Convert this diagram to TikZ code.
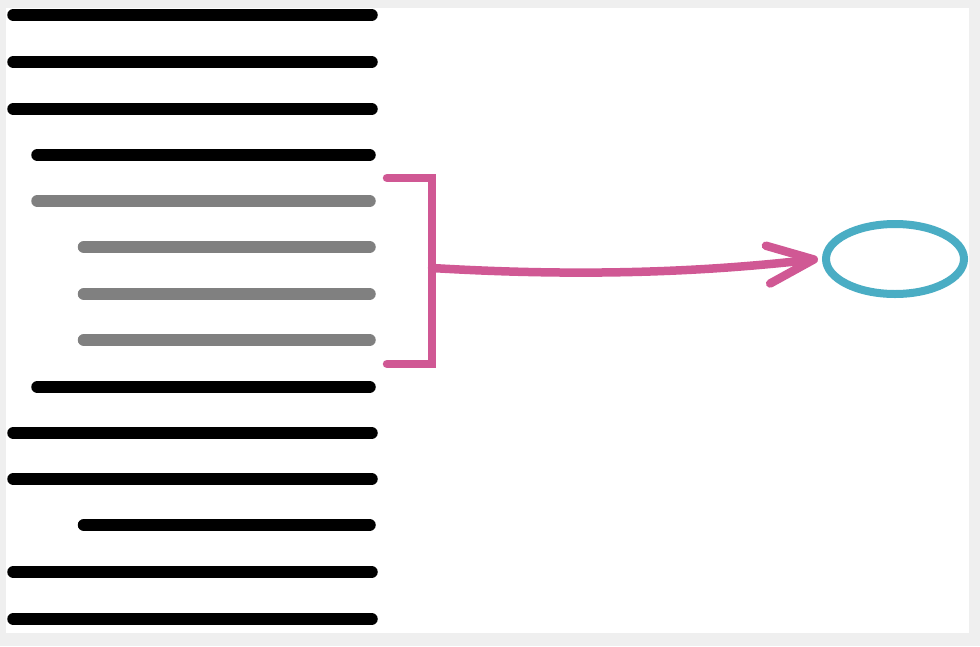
\documentclass[tikz,border=0pt]{standalone}
\usetikzlibrary{arrows.meta,shapes.geometric}
\definecolor{bggray}{RGB}{239,239,239}
\definecolor{pinkc}{RGB}{208,88,148}
\definecolor{tealc}{RGB}{74,173,196}
\definecolor{graybar}{RGB}{128,128,128}
\begin{document}
\begin{tikzpicture}[x=1pt,y=-1pt,
  bar/.style={line width=12.5pt,line cap=round,black},
  graybarline/.style={bar,draw=graybar},
  bracketline/.style={line width=8.5pt,draw=pinkc,line cap=round,line join=miter},
  linkarrow/.style={line width=8.5pt,draw=pinkc,line cap=round,
    -{Straight Barb[length=46pt,width=38pt,round]}},
  target/.style={ellipse,draw=tealc,line width=8pt,inner sep=0pt,
    minimum width=138pt,minimum height=70pt}]
\fill[bggray] (0,0) rectangle (980,646);
\fill[white] (6,8) rectangle (969,633);
% text lines
\draw[bar] (13.5,15) -- (371.5,15);
\draw[bar] (13.5,62) -- (371.5,62);
\draw[bar] (13.5,109) -- (371.5,109);
\draw[bar] (37.5,155) -- (369.5,155);
\draw[graybarline] (37.5,201) -- (369.5,201);
\draw[graybarline] (84,247) -- (369.5,247);
\draw[graybarline] (84,294) -- (369.5,294);
\draw[graybarline] (84,340) -- (369.5,340);
\draw[bar] (37.5,387) -- (369.5,387);
\draw[bar] (13.5,433) -- (371.5,433);
\draw[bar] (13.5,479) -- (371.5,479);
\draw[bar] (84,525) -- (369.5,525);
\draw[bar] (13.5,572) -- (371.5,572);
\draw[bar] (13.5,619) -- (371.5,619);
% bracket
\draw[bracketline] (387,178) -- (432,178) -- (432,364) -- (387,364);
\coordinate (br) at (432,268);
% target
\node[target] (el) at (895,259) {};
\draw[linkarrow] (br) .. controls (600,278) and (720,270) .. ([xshift=-4pt]el.west);
\end{tikzpicture}
\end{document}
